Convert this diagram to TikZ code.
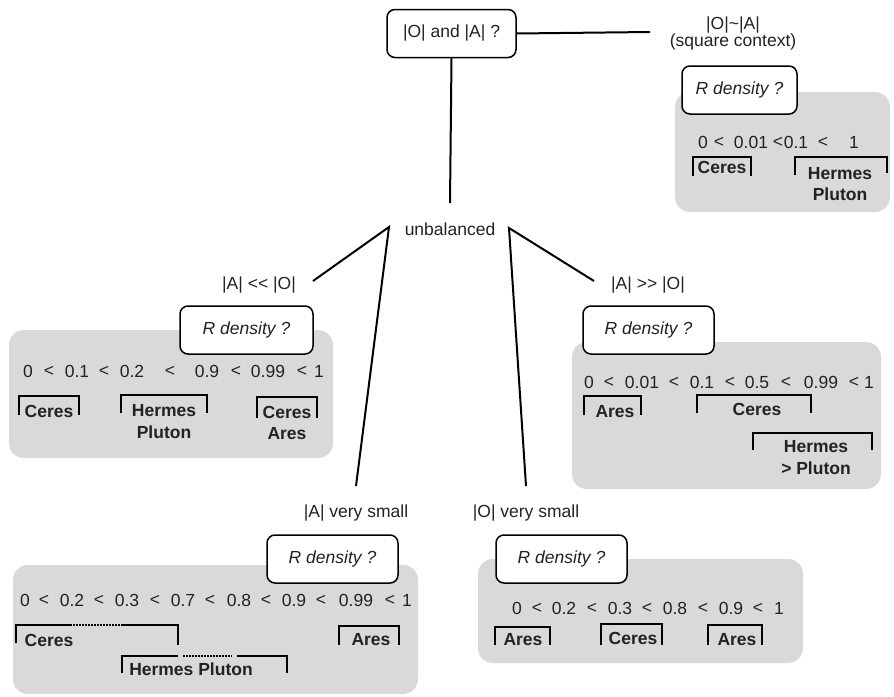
\documentclass[tikz,border=0pt]{standalone}
\usepackage{fontspec}
\setmainfont{Liberation Sans}
\definecolor{panelgray}{HTML}{D9D9D9}
\definecolor{ink}{HTML}{222222}
\newcommand\myfs{\fontsize{17.5}{21.5}\selectfont}
\tikzset{
  panel/.style={fill=panelgray, rounded corners=15pt},
  qbox/.style={draw=black, fill=white, line width=1.5pt, rounded corners=8pt,
    minimum height=48pt, inner sep=0pt, font=\myfs\itshape, text=ink},
  lbl/.style={inner sep=0pt, font=\myfs, text=ink, align=center},
  num/.style={inner sep=0pt, font=\myfs, text=ink},
  nm/.style={inner sep=0pt, font=\myfs\bfseries, text=ink, align=center},
  conn/.style={line width=2pt, draw=black},
  brk/.style={line width=2pt, draw=black},
  dots/.style={line width=1.6pt, draw=black, dash pattern=on 1.5pt off 1.5pt},
}
\begin{document}
\begin{tikzpicture}[x=1pt,y=-1pt]
\useasboundingbox (0,0) rectangle (894,696);

% gray panels
\fill[panel] (675,92) rectangle (890,212);
\fill[panel] (9,330) rectangle (333,458);
\fill[panel] (572,342) rectangle (881,489);
\fill[panel] (13,565) rectangle (418,694);
\fill[panel] (478,559) rectangle (803,663);

% top question
\node[qbox, minimum width=129pt, font=\myfs, text=ink] (top) at (451.5,33.5) {|O| and |A| ?};
\node[lbl, font=\fontsize{17.5}{17.5}\selectfont] (sq) at (733,33.5) {|O|\textasciitilde|A|\\(square context)};
\node[lbl] (unb) at (450,229) {unbalanced};
\node[lbl] (alo) at (259,285) {|A| <{}< |O|};
\node[lbl] (agt) at (648,285) {|A| >{}> |O|};
\node[lbl] (avs) at (356,513) {|A| very small};
\node[lbl] (ovs) at (526,513) {|O| very small};

% connector end points
\coordinate (t1) at (650,32);
\coordinate (t2) at (450,203);
\coordinate (ul) at (389,227);
\coordinate (ur) at (509,228);
\coordinate (l1) at (313,281);
\coordinate (l2) at (356,486);
\coordinate (r1) at (594,281);
\coordinate (r2) at (526,486);

\draw[conn] (top.east) -- (t1);
\draw[conn] (top.south) -- (t2);
\draw[conn] (l1) -- (ul) -- (l2);
\draw[conn] (r1) -- (ur) -- (r2);

% R density boxes
\node[qbox, minimum width=115pt] (q1) at (739.5,90) {R density ?};
\node[qbox, minimum width=133pt] (q2) at (246.5,330) {R density ?};
\node[qbox, minimum width=131pt] (q3) at (648.5,330) {R density ?};
\node[qbox, minimum width=131pt] (q4) at (332.5,559) {R density ?};
\node[qbox, minimum width=131pt] (q5) at (561.5,559) {R density ?};

% number rows
\foreach \x/\t [count=\i] in {703/0,719/<,751/0.01,778/<,796/0.1,823/<,854/1}
  \node[num] (ra\i) at (\x,142) {\t};
\foreach \x/\t [count=\i] in {28/0,49/<,77/0.1,104/<,132/0.2,170/<,207/0.9,236/<,268/0.99,302/<,319/1}
  \node[num] (rb\i) at (\x,371) {\t};
\foreach \x/\t [count=\i] in {589/0,609/<,642/0.01,674/<,702/0.1,730/<,757/0.5,786/<,821/0.99,854/<,869/1}
  \node[num] (rc\i) at (\x,382) {\t};
\foreach \x/\t [count=\i] in {25/0,44/<,72/0.2,99/<,127/0.3,155/<,183/0.7,210/<,239/0.8,266/<,294/0.9,321/<,356/0.99,390/<,407/1}
  \node[num] (rd\i) at (\x,600) {\t};
\foreach \x/\t [count=\i] in {517/0,537/<,564/0.2,592/<,620/0.3,647/<,675/0.8,703/<,731/0.9,758/<,779/1}
  \node[num] (re\i) at (\x,608) {\t};

% top-right brackets
\draw[brk] (693,176) -- (693,157) -- (751,157) -- (751,176);
\node[nm] (a1) at (722,167) {Ceres};
\draw[brk] (795,175) -- (795,157) -- (887,157) -- (887,173);
\node[nm] (a2) at (840,184) {Hermes\\Pluton};

% left brackets
\draw[brk] (19,415) -- (19,396) -- (79,396) -- (79,415);
\node[nm] (b1) at (49,411) {Ceres};
\draw[brk] (121,413) -- (121,395) -- (207,395) -- (207,413);
\node[nm] (b2) at (164,421.5) {Hermes\\Pluton};
\draw[brk] (257,418) -- (257,397) -- (317,397) -- (317,418);
\node[nm] (b3) at (287,423) {Ceres\\Ares};

% right brackets
\draw[brk] (584,415) -- (584,396) -- (641,396) -- (641,415);
\node[nm] (c1) at (615,412) {Ares};
\draw[brk] (697,413) -- (697,395) -- (811,395) -- (811,413);
\node[nm] (c2) at (757,409) {Ceres};
\draw[brk] (753,450) -- (753,433) -- (872,433) -- (872,450);
\node[nm] (c3) at (816,457.5) {Hermes\\> Pluton};

% bottom-left brackets
\draw[brk] (16,643) -- (16,625) -- (72,625);
\draw[dots] (73,625) -- (122,625);
\draw[brk] (122,625) -- (178,625) -- (178,645);
\node[nm] (d1) at (49,640) {Ceres};
\draw[brk] (122,673) -- (122,656) -- (178,656);
\draw[dots] (183,656) -- (232,656);
\draw[brk] (237,656) -- (287,656) -- (287,673);
\node[nm] (d2) at (191,669) {Hermes Pluton};
\draw[brk] (339,645) -- (339,626) -- (399,626) -- (399,645);
\node[nm] (d3) at (371,640) {Ares};

% bottom-right brackets
\draw[brk] (495,645) -- (495,627) -- (550,627) -- (550,645);
\node[nm] (e1) at (523,640) {Ares};
\draw[brk] (601,645) -- (601,624) -- (662,624) -- (662,645);
\node[nm] (e2) at (633,638) {Ceres};
\draw[brk] (708,645) -- (708,625) -- (762,625) -- (762,645);
\node[nm] (e3) at (737,640) {Ares};
\end{tikzpicture}
\end{document}
